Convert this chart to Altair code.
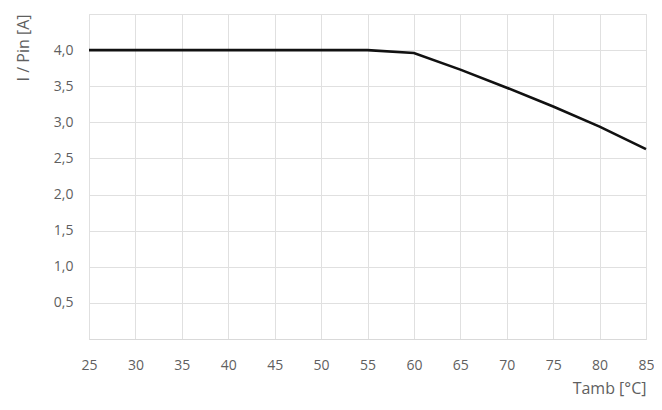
import altair as alt
import pandas as pd

temps = [25, 55, 60, 65, 70, 75, 80, 85]
currents = [4.0, 4.0, 3.96, 3.73, 3.48, 3.22, 2.94, 2.63]

df = pd.DataFrame({"t": temps, "i": currents})

x_ticks = [25, 30, 35, 40, 45, 50, 55, 60, 65, 70, 75, 80, 85]
y_ticks = [0, 0.5, 1.0, 1.5, 2.0, 2.5, 3.0, 3.5, 4.0, 4.5]

font = "Open Sans"
gray = "#5f5f5f"

chart = alt.Chart(df).mark_line(color="#111111", strokeWidth=2.6).encode(
    x=alt.X("t:Q", scale=alt.Scale(domain=[25, 85], nice=False, zero=False),
            axis=alt.Axis(values=x_ticks, title="Tamb [°C]", titleAnchor="end",
                          titleAlign="right", titleFontSize=16, titleFontWeight="normal",
                          titleColor=gray, titleFont=font, titlePadding=8,
                          labelFont=font, labelFontSize=14, labelColor=gray,
                          labelPadding=19, ticks=False, domainColor="#d9d9d9",
                          gridColor="#e0e0e0", labelFlush=False)),
    y=alt.Y("i:Q", scale=alt.Scale(domain=[0, 4.5], nice=False),
            axis=alt.Axis(values=y_ticks, title="I / Pin [A]", titleAnchor="end",
                          titleFontSize=16, titleFontWeight="normal", titleColor=gray,
                          titleFont=font, titlePadding=22,
                          labelExpr="(datum.value == 0 || datum.value == 4.5) ? '' : replace(format(datum.value, '.1f'), '.', ',')",
                          labelFont=font, labelFontSize=14, labelColor=gray,
                          labelPadding=16, ticks=False, domain=False,
                          gridColor="#e0e0e0")),
).properties(
    width=557, height=325,
    autosize=alt.AutoSizeParams(type="none"),
    padding={"left": 81, "top": 6, "right": 8, "bottom": 60},
).configure_view(stroke="#d9d9d9").configure(background="white")

chart.save("out.html", embed_options={"renderer": "svg", "actions": False})
